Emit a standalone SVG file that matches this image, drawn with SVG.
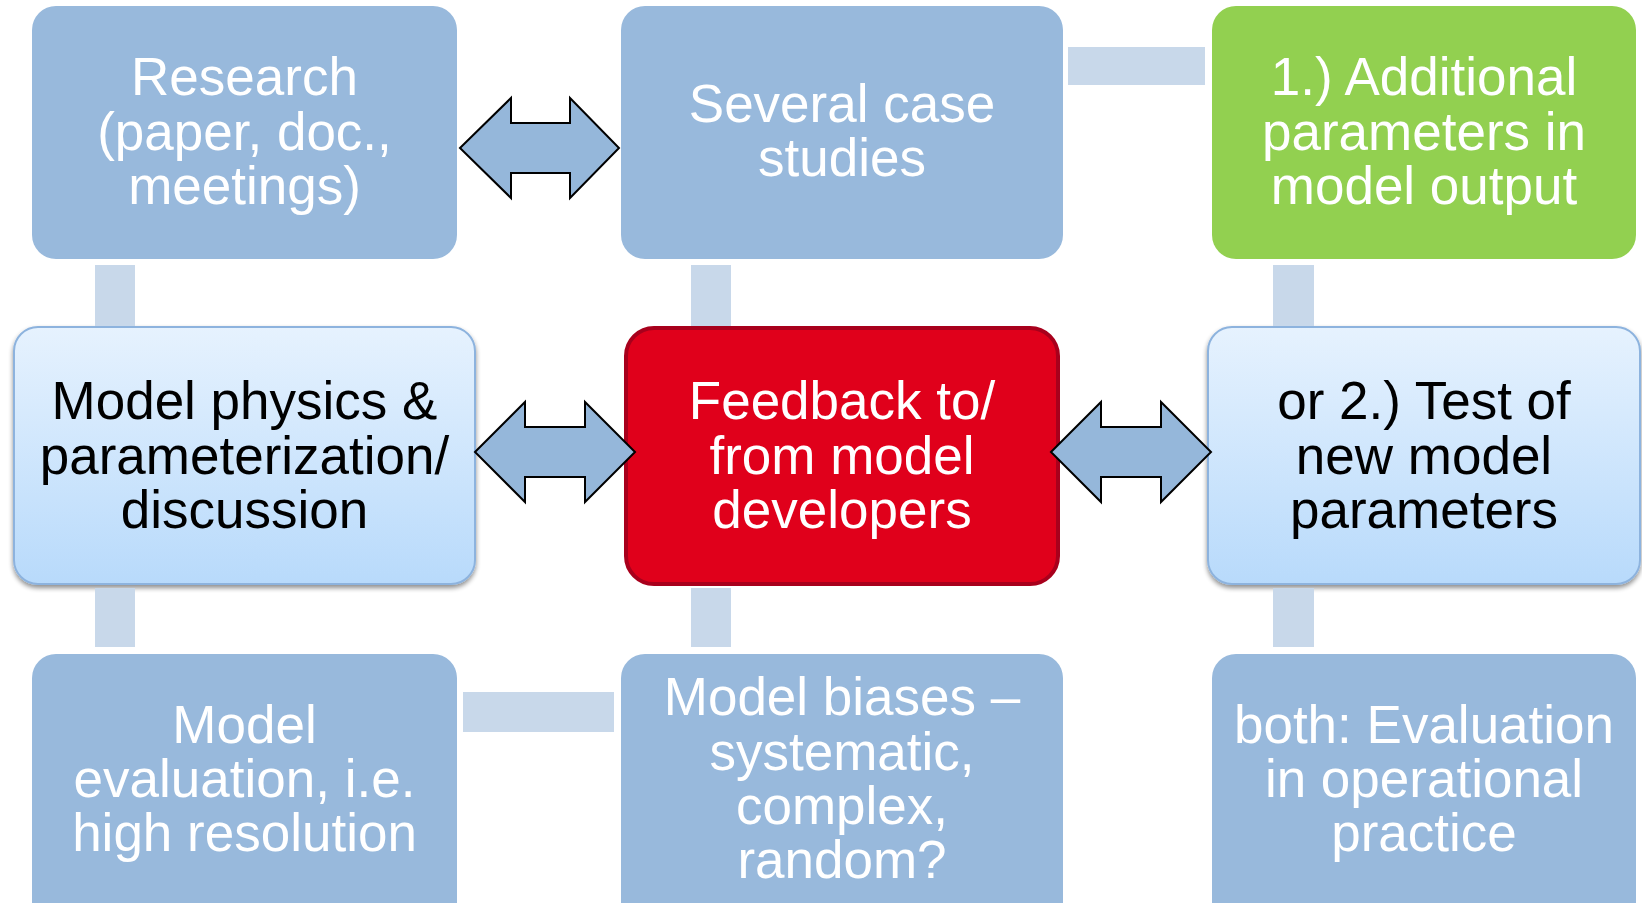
<svg xmlns="http://www.w3.org/2000/svg" width="1642" height="903" viewBox="0 0 1642 903">
  <style>
    .t { font-family: "Liberation Sans", Arial, sans-serif; font-size: 53px; text-anchor: middle; }
    .w { fill: #ffffff; }
    .k { fill: #000000; }
    .box { fill: #98B9DC; }
    .bar { fill: #C8D8EA; }
    .light { fill: url(#lg); stroke: #8DB3DE; stroke-width: 2; filter: url(#sh); }
    .arr { fill: #95B7DA; stroke: #000; stroke-width: 2; stroke-linejoin: miter; }
  </style>
  <defs>
    <linearGradient id="lg" x1="0" y1="0" x2="0" y2="1">
      <stop offset="0" stop-color="#E6F2FE"/>
      <stop offset="1" stop-color="#B8DAFB"/>
    </linearGradient>
    <filter id="sh" x="-5%" y="-5%" width="110%" height="115%">
      <feGaussianBlur in="SourceAlpha" stdDeviation="2.5"/>
      <feOffset dx="0" dy="3" result="b"/>
      <feComponentTransfer><feFuncA type="linear" slope="0.45"/></feComponentTransfer>
      <feMerge><feMergeNode/><feMergeNode in="SourceGraphic"/></feMerge>
    </filter>
  </defs>
  <rect width="1642" height="903" fill="#ffffff"/>

  <g id="research">
    <rect class="box" x="32" y="6" width="425" height="253" rx="24"/>
    <text class="t w" x="244.5" y="95">Research</text>
    <text class="t w" x="244.5" y="150">(paper, doc.,</text>
    <text class="t w" x="244.5" y="204">meetings)</text>
  </g>

  <g id="case-studies">
    <rect class="box" x="621" y="6" width="442" height="253" rx="24"/>
    <text class="t w" x="842" y="122">Several case</text>
    <text class="t w" x="842" y="176">studies</text>
  </g>

  <g id="additional-params">
    <rect x="1212" y="6" width="424" height="253" rx="24" fill="#92D050"/>
    <text class="t w" x="1424" y="95">1.) Additional</text>
    <text class="t w" x="1424" y="150">parameters in</text>
    <text class="t w" x="1424" y="204">model output</text>
  </g>

  <g id="model-physics">
    <rect class="light" x="14" y="327" width="461" height="257" rx="24"/>
    <text class="t k" x="244.5" y="419">Model physics &amp;</text>
    <text class="t k" x="244.5" y="474">parameterization/</text>
    <text class="t k" x="244.5" y="528">discussion</text>
  </g>

  <g id="feedback">
    <rect x="626" y="328" width="432" height="256" rx="28" fill="#E0001B" stroke="#A8001C" stroke-width="4"/>
    <text class="t w" x="842" y="419">Feedback to/</text>
    <text class="t w" x="842" y="474">from model</text>
    <text class="t w" x="842" y="528">developers</text>
  </g>

  <g id="test-params">
    <rect class="light" x="1208" y="327" width="432" height="257" rx="24"/>
    <text class="t k" x="1424" y="419">or 2.) Test of</text>
    <text class="t k" x="1424" y="474">new model</text>
    <text class="t k" x="1424" y="528">parameters</text>
  </g>

  <g id="model-evaluation">
    <rect class="box" x="32" y="654" width="425" height="280" rx="24"/>
    <text class="t w" x="244.5" y="743">Model</text>
    <text class="t w" x="244.5" y="797">evaluation, i.e.</text>
    <text class="t w" x="244.5" y="851">high resolution</text>
  </g>

  <g id="model-biases">
    <rect class="box" x="621" y="654" width="442" height="280" rx="24"/>
    <text class="t w" x="842" y="715">Model biases –</text>
    <text class="t w" x="842" y="770">systematic,</text>
    <text class="t w" x="842" y="824">complex,</text>
    <text class="t w" x="842" y="878">random?</text>
  </g>

  <g id="operational">
    <rect class="box" x="1212" y="654" width="424" height="280" rx="24"/>
    <text class="t w" x="1424" y="743">both: Evaluation</text>
    <text class="t w" x="1424" y="797">in operational</text>
    <text class="t w" x="1424" y="851">practice</text>
  </g>

  <g id="connectors">
    <rect class="bar" x="95" y="265" width="40" height="61"/>
    <rect class="bar" x="95" y="588" width="40" height="59"/>
    <rect class="bar" x="691" y="265" width="40" height="61"/>
    <rect class="bar" x="691" y="588" width="40" height="59"/>
    <rect class="bar" x="1273" y="265" width="41" height="61"/>
    <rect class="bar" x="1273" y="588" width="41" height="59"/>
    <rect class="bar" x="1068" y="47" width="137" height="38"/>
    <rect class="bar" x="463" y="692" width="151" height="40"/>
    <path class="arr" d="M460,148 L511,98 L511,123 L570,123 L570,98 L619,148 L570,198 L570,173 L511,173 L511,198 Z"/>
    <path class="arr" d="M475,452 L525,402 L525,427 L585,427 L585,402 L635,452 L585,502 L585,477 L525,477 L525,502 Z"/>
    <path class="arr" d="M1051,452 L1101,402 L1101,427 L1161,427 L1161,402 L1211,452 L1161,502 L1161,477 L1101,477 L1101,502 Z"/>
  </g>
</svg>
